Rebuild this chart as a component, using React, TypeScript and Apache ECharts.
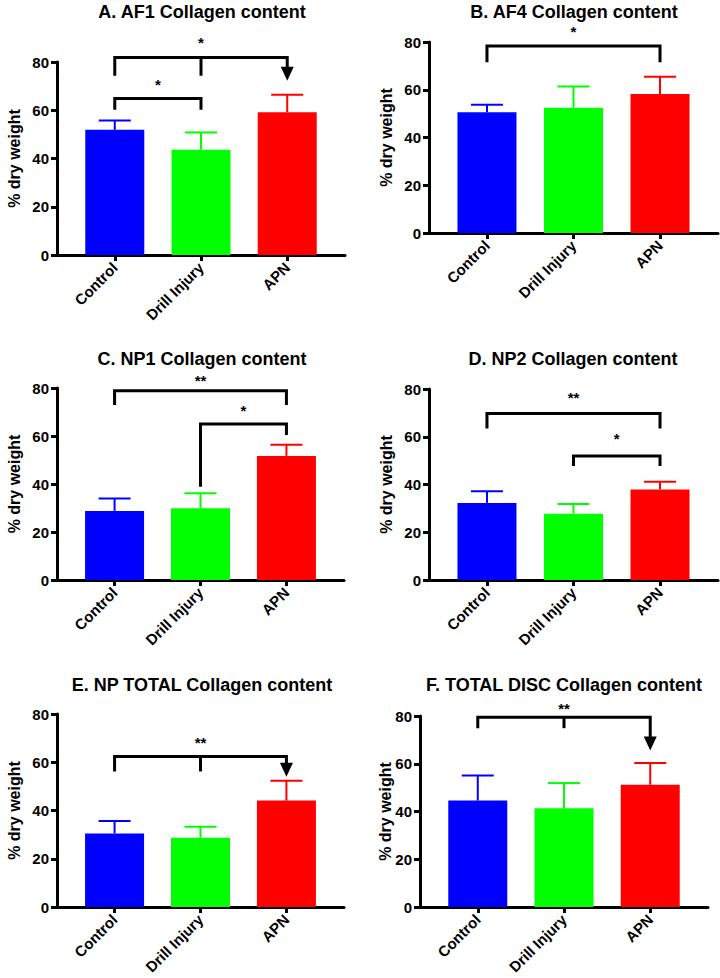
import React, { useEffect, useRef } from "react";
import * as echarts from "echarts";

const categories = ["Control", "Drill Injury", "APN"];
const barColors = ["#0000FF", "#00FF00", "#FF0000"];
const yMin = 0;
const yMax = 80;
const yStep = 20;

const titles = [
  "A. AF1 Collagen content",
  "B. AF4 Collagen content",
  "C. NP1 Collagen content",
  "D. NP2 Collagen content",
  "E. NP TOTAL Collagen content",
  "F. TOTAL DISC Collagen content",
];

// mean values and mean + error (upper end of error bar)
const meanAF1 = [51.9, 43.6, 59.2];
const upperAF1 = [55.7, 50.8, 66.4];
const meanAF4 = [50.6, 52.5, 58.2];
const upperAF4 = [53.7, 61.4, 65.4];
const meanNP1 = [28.8, 29.9, 51.7];
const upperNP1 = [34.0, 36.1, 56.4];
const meanNP2 = [32.3, 27.8, 37.9];
const upperNP2 = [37.2, 31.8, 41.1];
const meanNPT = [30.5, 28.7, 44.1];
const upperNPT = [35.6, 33.3, 52.3];
const meanDisc = [44.6, 41.4, 51.2];
const upperDisc = [55.1, 51.9, 60.3];

// significance brackets (x = category index, y = data units)
type Bracket = { legX: number[]; legEnd: number[]; top: number; arrow: boolean; label: string; labelX: number; labelY: number };
const bracketsAF1: Bracket[] = [
  { legX: [0, 1, 2], legEnd: [74.3, 74.3, 72.2], top: 81.9, arrow: true, label: "*", labelX: 1, labelY: 89.6 },
  { legX: [0, 1], legEnd: [60.2, 60.2], top: 64.9, arrow: false, label: "*", labelX: 0.5, labelY: 72.2 },
];
const bracketsAF4: Bracket[] = [
  { legX: [0, 2], legEnd: [71.5, 71.5], top: 78.3, arrow: false, label: "*", labelX: 1, labelY: 86.2 },
];
const bracketsNP1: Bracket[] = [
  { legX: [0, 2], legEnd: [72.9, 72.9], top: 78.9, arrow: false, label: "**", labelX: 1, labelY: 84.7 },
  { legX: [1, 2], legEnd: [38.9, 60.4], top: 65.0, arrow: false, label: "*", labelX: 1.5, labelY: 72.2 },
];
const bracketsNP2: Bracket[] = [
  { legX: [0, 2], legEnd: [63.5, 63.5], top: 69.7, arrow: false, label: "**", labelX: 1, labelY: 78.3 },
  { legX: [1, 2], legEnd: [47.7, 47.7], top: 51.9, arrow: false, label: "*", labelX: 1.5, labelY: 61.0 },
];
const bracketsNPT: Bracket[] = [
  { legX: [0, 1, 2], legEnd: [56.2, 56.2, 54.0], top: 62.4, arrow: true, label: "**", labelX: 1, labelY: 70.0 },
];
const bracketsDisc: Bracket[] = [
  { legX: [0, 1, 2], legEnd: [74.9, 74.9, 65.6], top: 79.5, arrow: true, label: "**", labelX: 1, labelY: 85.0 },
];

const FONT = '"Liberation Sans", Arial, Helvetica, sans-serif';

const panels = [
  { title: titles[0], mean: meanAF1, upper: upperAF1, brackets: bracketsAF1, grid: { left: 57, top: 62, width: 288, height: 193 }, titlePos: [202, 12], nameGap: 35 },
  { title: titles[1], mean: meanAF4, upper: upperAF4, brackets: bracketsAF4, grid: { left: 429, top: 42, width: 289, height: 191 }, titlePos: [574, 12], nameGap: 35 },
  { title: titles[2], mean: meanNP1, upper: upperNP1, brackets: bracketsNP1, grid: { left: 57, top: 388, width: 287, height: 192 }, titlePos: [202, 359], nameGap: 35 },
  { title: titles[3], mean: meanNP2, upper: upperNP2, brackets: bracketsNP2, grid: { left: 429, top: 389, width: 289, height: 191 }, titlePos: [573, 359], nameGap: 35 },
  { title: titles[4], mean: meanNPT, upper: upperNPT, brackets: bracketsNPT, grid: { left: 57, top: 714, width: 287, height: 193 }, titlePos: [202, 685], nameGap: 35 },
  { title: titles[5], mean: meanDisc, upper: upperDisc, brackets: bracketsDisc, grid: { left: 420, top: 716, width: 288, height: 191 }, titlePos: [564, 685], nameGap: 27 },
];

function buildOption() {
  const grid: any[] = [];
  const xAxis: any[] = [];
  const yAxis: any[] = [];
  const series: any[] = [];
  const graphic: any[] = [];
  const catIdx = categories.map((_, i) => i);

  panels.forEach((p, k) => {
    grid.push({ ...p.grid, containLabel: false });
    xAxis.push({
      type: "value",
      gridIndex: k,
      min: -0.67,
      max: 2.67,
      splitLine: { show: false },
      axisLine: { show: true, onZero: false, lineStyle: { color: "#000", width: 3 } },
      axisTick: { show: true, customValues: catIdx, length: 6, lineStyle: { color: "#000", width: 3 } },
      axisLabel: {
        customValues: catIdx,
        rotate: 45,
        margin: 10,
        formatter: (v: number) => categories[Math.round(v)] ?? "",
        color: "#000",
        fontFamily: FONT,
        fontWeight: "bold",
        fontSize: 15,
      },
    });
    yAxis.push({
      type: "value",
      gridIndex: k,
      min: yMin,
      max: yMax,
      interval: yStep,
      name: "% dry weight",
      nameLocation: "middle",
      nameGap: p.nameGap,
      nameMoveOverlap: false,
      nameTextStyle: { color: "#000", fontFamily: FONT, fontWeight: "bold", fontSize: 16 },
      splitLine: { show: false },
      axisLine: { show: true, onZero: false, lineStyle: { color: "#000", width: 3 } },
      axisTick: { show: true, length: 6, lineStyle: { color: "#000", width: 3 } },
      axisLabel: { color: "#000", fontFamily: FONT, fontWeight: "bold", fontSize: 15, margin: 8 },
    });

    series.push({
      type: "bar",
      xAxisIndex: k,
      yAxisIndex: k,
      barWidth: 59,
      data: p.mean.map((v, i) => ({ value: [i, v], itemStyle: { color: barColors[i] } })),
      z: 2,
    });

    series.push({
      type: "custom",
      xAxisIndex: k,
      yAxisIndex: k,
      z: 3,
      encode: { x: 0, y: [1, 2] },
      data: p.mean.map((v, i) => [i, v, p.upper[i]]),
      renderItem: (params: any, api: any) => {
        const i = api.value(0);
        const a = api.coord([i, api.value(1)]);
        const b = api.coord([i, api.value(2)]);
        const c = barColors[params.dataIndex];
        const half = 16;
        return {
          type: "group",
          children: [
            { type: "line", shape: { x1: a[0], y1: a[1], x2: b[0], y2: b[1] }, style: { stroke: c, lineWidth: 2 } },
            { type: "line", shape: { x1: b[0] - half, y1: b[1], x2: b[0] + half, y2: b[1] }, style: { stroke: c, lineWidth: 2 } },
          ],
        };
      },
    });

    const brs = p.brackets;
    series.push({
      type: "custom",
      xAxisIndex: k,
      yAxisIndex: k,
      z: 4,
      clip: false,
      encode: { x: 0, y: 1 },
      data: brs.map((b) => [b.labelX, b.top]),
      renderItem: (params: any, api: any) => {
        const b = brs[params.dataIndex];
        const xs = b.legX;
        const n = xs.length;
        const tl = api.coord([xs[0], b.top]);
        const tr = api.coord([xs[n - 1], b.top]);
        const el = api.coord([xs[0], b.legEnd[0]]);
        const er = api.coord([xs[n - 1], b.legEnd[n - 1]]);
        const AH = 14;
        const AW = 6.5;
        const rEnd = b.arrow ? er[1] - AH + 1 : er[1];
        const children: any[] = [
          {
            type: "polyline",
            shape: { points: [[tl[0], el[1]], tl, tr, [tr[0], rEnd]] },
            style: { stroke: "#000", lineWidth: 3, fill: "none", lineJoin: "miter" },
          },
        ];
        if (b.arrow) {
          children.push({
            type: "polygon",
            shape: { points: [[er[0] - AW, er[1] - AH], [er[0] + AW, er[1] - AH], [er[0], er[1]]] },
            style: { fill: "#000" },
          });
        }
        for (let i = 1; i < n - 1; i++) {
          const t = api.coord([xs[i], b.top]);
          const e = api.coord([xs[i], b.legEnd[i]]);
          children.push({ type: "line", shape: { x1: t[0], y1: t[1], x2: e[0], y2: e[1] }, style: { stroke: "#000", lineWidth: 3 } });
        }
        const lp = api.coord([b.labelX, b.labelY]);
        children.push({
          type: "text",
          x: lp[0],
          y: lp[1] + 4,
          style: { text: b.label, align: "center", verticalAlign: "middle", font: `bold 15px ${FONT}`, fill: "#000" },
        });
        return { type: "group", children };
      },
    });

    graphic.push({
      type: "text",
      x: p.titlePos[0],
      y: p.titlePos[1],
      style: { text: p.title, align: "center", verticalAlign: "middle", font: `bold 18px ${FONT}`, fill: "#000" },
    });
  });

  return { animation: false, backgroundColor: "#fff", grid, xAxis, yAxis, series, graphic };
}

export default function App() {
  const ref = useRef<HTMLDivElement>(null);
  useEffect(() => {
    document.body.style.margin = "0";
    if (!ref.current) return;
    const chart = echarts.init(ref.current, undefined, { renderer: "svg" });
    chart.setOption(buildOption() as any);
    return () => chart.dispose();
  }, []);
  return <div ref={ref} style={{ width: 720, height: 978, position: "absolute", left: 0, top: 0 }} />;
}
